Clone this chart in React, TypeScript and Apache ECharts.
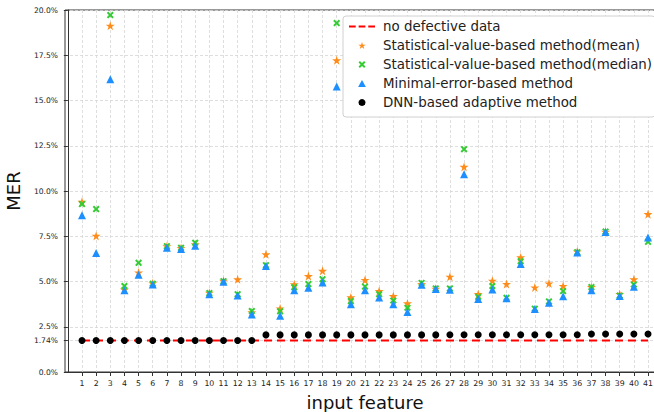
import React, { useEffect, useRef } from "react";
import * as echarts from "echarts";

const features: number[] = Array.from({ length: 41 }, (_, i) => i + 1);

const meanValues = [9.4, 7.52, 19.13, 4.55, 5.5, 4.9, 6.95, 6.85, 7.05, 4.38, 5.04, 5.12, 3.3, 6.5, 3.51, 4.84, 5.3, 5.59, 17.22, 4.12, 5.08, 4.47, 4.19, 3.79, 4.86, 4.6, 5.26, 11.33, 4.3, 5.04, 4.86, 6.33, 4.67, 4.89, 4.75, 6.66, 4.69, 7.75, 4.3, 5.12, 8.72];
const medianValues = [9.28, 9.0, 19.72, 4.75, 6.03, 4.88, 6.95, 6.86, 7.14, 4.36, 5.02, 4.3, 3.37, 5.9, 3.35, 4.68, 4.86, 5.13, 19.28, 3.92, 4.72, 4.3, 3.95, 3.55, 4.92, 4.62, 4.62, 12.31, 4.15, 4.75, 4.1, 6.12, 3.5, 3.9, 4.47, 6.62, 4.69, 7.76, 4.22, 4.84, 7.19];
const minErrorValues = [8.66, 6.58, 16.17, 4.52, 5.37, 4.84, 6.86, 6.8, 6.97, 4.3, 4.98, 4.23, 3.18, 5.85, 3.11, 4.52, 4.65, 4.95, 15.78, 3.75, 4.52, 4.12, 3.75, 3.31, 4.82, 4.58, 4.55, 10.93, 4.03, 4.56, 4.07, 5.96, 3.48, 3.83, 4.19, 6.6, 4.52, 7.73, 4.2, 4.71, 7.43];
const dnnValues = [1.74, 1.74, 1.74, 1.74, 1.74, 1.74, 1.74, 1.74, 1.74, 1.74, 1.74, 1.74, 1.74, 2.05, 2.05, 2.05, 2.05, 2.05, 2.05, 2.05, 2.05, 2.05, 2.05, 2.05, 2.05, 2.05, 2.06, 2.06, 2.06, 2.06, 2.06, 2.06, 2.06, 2.06, 2.06, 2.06, 2.1, 2.1, 2.1, 2.1, 2.1];
const noDefectValue = 1.74;

const yTicks = [0, 1.74, 2.5, 5, 7.5, 10, 12.5, 15, 17.5, 20];
const seriesNames = [
  "no defective data",
  "Statistical-value-based method(mean)",
  "Statistical-value-based method(median)",
  "Minimal-error-based method",
  "DNN-based adaptive method",
];

const STAR = "path://M50,0 L61.8,35.4 L99,35.4 L69,57.3 L80.4,92.7 L50,70.8 L19.6,92.7 L31,57.3 L1,35.4 L38.2,35.4 Z";
const XMARK = "path://M0,20 L20,0 L50,30 L80,0 L100,20 L70,50 L100,80 L80,100 L50,70 L20,100 L0,80 L30,50 Z";
const TRI = "path://M50,0 L100,90 L0,90 Z";
const DOT = "path://M50,0 A50,50 0 1,1 49.99,0 Z";
const DASH = "path://M0,0 L7,0 L7,2 L0,2 Z M10,0 L17,0 L17,2 L10,2 Z M20,0 L27,0 L27,2 L20,2 Z";

const FONT = "DejaVu Sans";

export default function App() {
  const ref = useRef<HTMLDivElement>(null);
  useEffect(() => {
    if (!ref.current) return;
    const chart = echarts.init(ref.current, undefined, { renderer: "svg" });
    const pairs = (vals: number[]) => features.map((f, i) => [f, vals[i]]);
    chart.setOption({
      animation: false,
      textStyle: { fontFamily: FONT },
      grid: {
        left: 65, top: 10, width: 600, height: 362,
        outerBoundsMode: "none",
        containLabel: false,
        show: true, borderColor: "#333", borderWidth: 1, backgroundColor: "transparent",
      },
      legend: {
        orient: "vertical",
        left: 343,
        top: 16,
        width: 310,
        data: [
          { name: seriesNames[0], icon: DASH, itemStyle: { color: "#ff0000" } },
          { name: seriesNames[1], icon: STAR },
          { name: seriesNames[2], icon: XMARK },
          { name: seriesNames[3], icon: TRI },
          { name: seriesNames[4], icon: DOT },
        ],
        symbolKeepAspect: true,
        backgroundColor: "#fff",
        borderColor: "#d0d0d0",
        borderWidth: 1,
        borderRadius: 3,
        padding: [4, 3, 8, 6],
        itemWidth: 26,
        itemHeight: 7,
        itemGap: 6,
        textStyle: { fontFamily: FONT, fontSize: 13.4, color: "#222", lineHeight: 13, padding: [0, 0, 0, 3], overflow: "none" },
      },
      xAxis: {
        type: "value",
        min: -0.2,
        max: 42.2,
        name: "input feature",
        nameLocation: "middle",
        nameGap: 21,
        nameTextStyle: { fontFamily: FONT, fontSize: 18, color: "#111" },
        axisLine: { show: true, lineStyle: { color: "#333", width: 1 } },
        axisTick: { show: true, length: 4, customValues: features, lineStyle: { color: "#333" } },
        axisLabel: { customValues: features, fontSize: 7.8, color: "#222", margin: 7, fontFamily: FONT },
        splitLine: { show: true, lineStyle: { color: "#d6d6d6", type: [3, 2], width: 0.8 } },
      },
      yAxis: {
        type: "value",
        min: 0,
        max: 20,
        name: "MER",
        nameLocation: "middle",
        nameGap: 39,
        nameTextStyle: { fontFamily: FONT, fontSize: 18, color: "#111" },
        axisLine: { show: true, lineStyle: { color: "#333", width: 1 } },
        axisTick: { show: true, length: 4, customValues: yTicks, lineStyle: { color: "#333" } },
        axisLabel: {
          customValues: yTicks,
          fontSize: 7.6,
          color: "#222",
          margin: 7,
          fontFamily: FONT,
          formatter: (v: number) => (Math.abs(v - 1.74) < 1e-6 ? "1.74" : v.toFixed(1)) + "%",
        },
        splitLine: { show: true, lineStyle: { color: "#d6d6d6", type: [3, 2], width: 0.8 } },
      },
      series: [
        {
          name: seriesNames[0],
          type: "line",
          data: features.map((f) => [f, noDefectValue]),
          symbol: "none",
          lineStyle: { color: "#ff0000", width: 2, type: [8, 5] },
          itemStyle: { color: "#ff0000" },
          z: 2,
        },
        {
          name: seriesNames[1],
          type: "scatter",
          data: pairs(meanValues),
          symbol: STAR,
          symbolSize: 9,
          itemStyle: { color: "#ff8c1a", opacity: 1 },
          z: 3,
        },
        {
          name: seriesNames[2],
          type: "scatter",
          data: pairs(medianValues),
          symbol: XMARK,
          symbolSize: 7,
          itemStyle: { color: "#33cc33", opacity: 1 },
          z: 4,
        },
        {
          name: seriesNames[3],
          type: "scatter",
          data: pairs(minErrorValues),
          symbol: "triangle",
          symbolSize: 8,
          itemStyle: { color: "#1e8fff", opacity: 1 },
          z: 5,
        },
        {
          name: seriesNames[4],
          type: "scatter",
          data: pairs(dnnValues),
          symbol: "circle",
          symbolSize: 7,
          itemStyle: { color: "#000", opacity: 1 },
          z: 6,
        },
      ],
    });
    return () => chart.dispose();
  }, []);
  return <div ref={ref} style={{ width: 654, height: 412, position: "absolute", left: 0, top: 0 }} />;
}
